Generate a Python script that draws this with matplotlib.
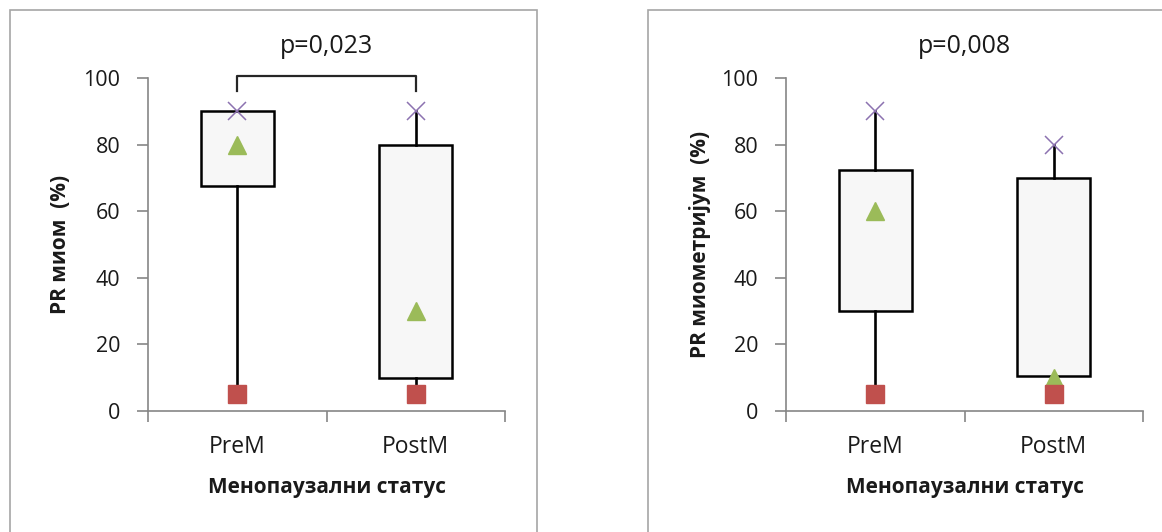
import matplotlib
matplotlib.use("Agg")
import matplotlib.pyplot as plt
from matplotlib.patches import Rectangle

plt.rcParams['font.family'] = ['Open Sans', 'DejaVu Sans']

# data
groups = ['PreM', 'PostM']
xlabel = 'Менопаузални статус'

# left panel: PR миом
myoma_min = [5, 5]
myoma_q1 = [67.5, 10]
myoma_med = [80, 30]
myoma_q3 = [90, 80]
myoma_max = [90, 90]

# right panel: PR миометријум
myom_min = [5, 5]
myom_q1 = [30, 10.5]
myom_med = [60, 10]
myom_q3 = [72.5, 70]
myom_max = [90, 80]

panels = [
    ('PR миом  (%)', 'p=0,023', myoma_min, myoma_q1, myoma_med, myoma_q3, myoma_max, True),
    ('PR миометријум  (%)', 'p=0,008', myom_min, myom_q1, myom_med, myom_q3, myom_max, False),
]

W, H = 1162, 532
fig = plt.figure(figsize=(W / 100, H / 100), dpi=100)

# panel frames (like the excel chart areas)
frame_col = '#a6a6a6'
fig.patches.append(Rectangle((10 / W, -0.05), 527 / W, 1.05 - 10 / H,
                             transform=fig.transFigure, fill=False, ec=frame_col, lw=1.2))
fig.patches.append(Rectangle((648 / W, -0.05), 0.6, 1.05 - 10 / H,
                             transform=fig.transFigure, fill=False, ec=frame_col, lw=1.2))

axes_left = [148, 786]
label_x = [61, 700]
axis_col = '#868686'
text_col = '#1a1a1a'

for i, (ylab, ptext, lo, q1, med, q3, hi, bracket) in enumerate(panels):
    ax = fig.add_axes([axes_left[i] / W, 1 - 411 / H, 357 / W, 333 / H])
    stats = []
    for j in range(len(groups)):
        stats.append(dict(med=med[j], q1=q1[j], q3=q3[j], whislo=lo[j], whishi=hi[j], fliers=[]))
    ax.bxp(stats, positions=[0, 1], widths=0.41, patch_artist=True, showcaps=False,
           boxprops=dict(facecolor='#f7f7f7', edgecolor='black', linewidth=1.8),
           whiskerprops=dict(color='black', linewidth=1.9),
           medianprops=dict(linewidth=0))
    xs = range(len(groups))
    ax.plot(xs, hi, ls='none', marker='x', ms=13, mew=1.1, color='#8c72b0', zorder=5)
    ax.plot(xs, med, ls='none', marker='^', ms=13, color='#9bbb59', zorder=5)
    ax.plot(xs, lo, ls='none', marker='s', ms=13, color='#c0504d', zorder=5)

    ax.set_xlim(-0.5, 1.5)
    ax.set_ylim(0, 100)
    ax.set_yticks([0, 20, 40, 60, 80, 100])
    ax.set_xticks([-0.5, 0.5, 1.5])
    ax.set_xticks([0, 1], minor=True)
    ax.set_xticklabels([])
    ax.set_xticklabels(groups, minor=True)
    ax.tick_params(axis='x', which='major', length=8, width=1.2, color=axis_col)
    ax.tick_params(axis='x', which='minor', length=0, pad=17, labelsize=16.5, labelcolor=text_col)
    ax.tick_params(axis='y', length=8, width=1.2, color=axis_col, pad=12, labelsize=15.5, labelcolor=text_col)
    for s in ['top', 'right']:
        ax.spines[s].set_visible(False)
    for s in ['left', 'bottom']:
        ax.spines[s].set_color(axis_col)
        ax.spines[s].set_linewidth(1.2)

    ax.set_xlabel(xlabel, fontsize=15, fontweight='bold', color=text_col, labelpad=13)
    ax.set_ylabel(ylab, fontsize=15, fontweight='bold', color=text_col, va='center')
    ax.yaxis.set_label_coords((label_x[i] - axes_left[i]) / 357, 0.5)

    ax.text(0.5, 109.5, ptext, ha='center', va='center', fontsize=18,
            color=text_col, clip_on=False)
    if bracket:
        ax.plot([0, 0, 1, 1], [96, 100.5, 100.5, 96], color='#262626', lw=1.6,
                clip_on=False, solid_joinstyle='round')

fig.savefig('out.png', dpi=100)
